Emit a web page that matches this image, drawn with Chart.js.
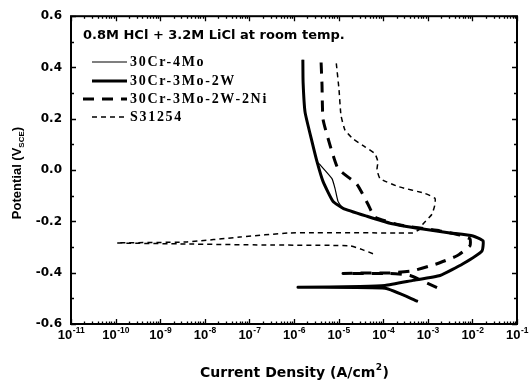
<!DOCTYPE html>
<html>
<head>
<meta charset="utf-8">
<script src="https://cdn.jsdelivr.net/npm/chart.js@4.4.1/dist/chart.umd.min.js"></script>
<style>
  html, body { margin: 0; padding: 0; background: #fff; }
  canvas { display: block; }
</style>
</head>
<body>
<canvas id="c" width="529" height="384"></canvas>
<script>
// Potentiodynamic polarization curves: current density (A/cm^2) vs potential (V vs SCE)
const seriesNames = ['30Cr-4Mo', '30Cr-3Mo-2W', '30Cr-3Mo-2W-2Ni', 'S31254'];

// 30Cr-4Mo
const mo_i = [6.0e-4, 1.1e-4, 1.23e-6, 3.0e-5, 1.1e-4, 4.66e-4, 1.88e-3, 6.15e-3, 1.64e-2, 1.73e-2, 1.03e-2, 3.15e-3, 7.8e-4, 1.42e-4, 4.34e-5, 1.26e-5, 9.7e-6, 8.3e-6, 7.1e-6, 3.83e-6, 3.28e-6, 2.54e-6, 1.77e-6, 1.6e-6, 1.58e-6];
const mo_E = [-0.512, -0.461, -0.457, -0.454, -0.450, -0.430, -0.411, -0.365, -0.315, -0.276, -0.257, -0.245, -0.230, -0.207, -0.180, -0.149, -0.122, -0.071, -0.033, 0.021, 0.033, 0.110, 0.226, 0.342, 0.430];

// 30Cr-3Mo-2W
const w_i = [6.0e-4, 1.1e-4, 1.23e-6, 3.0e-5, 1.1e-4, 4.66e-4, 1.88e-3, 6.15e-3, 1.64e-2, 1.73e-2, 1.03e-2, 3.15e-3, 7.8e-4, 1.42e-4, 4.34e-5, 1.26e-5, 7.5e-6, 4.47e-6, 3.28e-6, 2.54e-6, 1.77e-6, 1.6e-6, 1.58e-6];
const w_E = [-0.512, -0.461, -0.457, -0.454, -0.450, -0.430, -0.411, -0.365, -0.315, -0.276, -0.257, -0.245, -0.230, -0.207, -0.180, -0.149, -0.122, -0.044, 0.033, 0.110, 0.226, 0.342, 0.430];

// 30Cr-3Mo-2W-2Ni
const ni_i = [1.61e-3, 3.99e-4, 1.42e-4, 1.26e-5, 4.34e-5, 1.42e-4, 4.66e-4, 1.61e-3, 4.52e-3, 8.83e-3, 8.83e-3, 5.27e-3, 1.88e-3, 2.38e-4, 6.5e-5, 4.56e-5, 2.59e-5, 9.7e-6, 6.4e-6, 4.47e-6, 4.25e-6, 4.03e-6];
const ni_E = [-0.458, -0.411, -0.403, -0.403, -0.401, -0.401, -0.392, -0.365, -0.334, -0.295, -0.268, -0.253, -0.237, -0.214, -0.183, -0.133, -0.056, 0.006, 0.098, 0.199, 0.330, 0.430];

// S31254
const s_i = [5.9e-5, 3.52e-5, 1.8e-5, 2.02e-7, 3.99e-9, 1.07e-10, 3.99e-9, 6.15e-8, 8.1e-7, 2.04e-4, 4.43e-4, 6.7e-4, 7.8e-4, 1.24e-3, 1.45e-3, 1.45e-3, 8.65e-4, 2.15e-4, 8.5e-5, 7.26e-5, 7.6e-5, 6.5e-5, 3.9e-5, 2.1e-5, 1.39e-5, 1.13e-5, 1.02e-5, 8.75e-6];
const s_E = [-0.326, -0.311, -0.295, -0.292, -0.288, -0.284, -0.280, -0.261, -0.245, -0.245, -0.245, -0.230, -0.210, -0.172, -0.133, -0.110, -0.091, -0.064, -0.033, 0.002, 0.033, 0.064, 0.091, 0.122, 0.156, 0.214, 0.315, 0.427];

// Axis ticks
const xTickExponents = [-11, -10, -9, -8, -7, -6, -5, -4, -3, -2, -1];
const yTickValues = [-0.6, -0.4, -0.2, 0.0, 0.2, 0.4, 0.6];

const noteText = '0.8M HCl + 3.2M LiCl at room temp.';

function toPoints(iArr, eArr) {
  return iArr.map((v, k) => ({ x: v, y: eArr[k] }));
}

const lineStyles = [
  { borderWidth: 1.2, borderDash: [] },
  { borderWidth: 3, borderDash: [] },
  { borderWidth: 3, borderDash: [11, 8] },
  { borderWidth: 1.5, borderDash: [5, 4] }
];

const seriesData = [
  toPoints(mo_i, mo_E),
  toPoints(w_i, w_E),
  toPoints(ni_i, ni_E),
  toPoints(s_i, s_E)
];

// Frame, inward ticks, superscripted labels, titles and legend
const decorPlugin = {
  id: 'decor',
  afterDraw(chart) {
    const { ctx, chartArea: a, scales } = chart;
    const xs = scales.x, ys = scales.y;
    ctx.save();
    ctx.strokeStyle = '#000';
    ctx.fillStyle = '#000';

    // frame
    ctx.lineWidth = 2;
    ctx.strokeRect(a.left, a.top, a.right - a.left, a.bottom - a.top);

    // x ticks (bottom and top, pointing inward)
    ctx.lineWidth = 1.3;
    ctx.beginPath();
    xTickExponents.forEach((e, idx) => {
      const px = Math.round(xs.getPixelForValue(Math.pow(10, e))) + 0.5;
      ctx.moveTo(px, a.bottom); ctx.lineTo(px, a.bottom - 5);
      ctx.moveTo(px, a.top); ctx.lineTo(px, a.top + 5);
      if (idx < xTickExponents.length - 1) {
        for (let m = 2; m <= 9; m++) {
          const mx = Math.round(xs.getPixelForValue(m * Math.pow(10, e))) + 0.5;
          ctx.moveTo(mx, a.bottom); ctx.lineTo(mx, a.bottom - 2.5);
          ctx.moveTo(mx, a.top); ctx.lineTo(mx, a.top + 2.5);
        }
      }
    });
    // y ticks (left and right, pointing inward)
    yTickValues.forEach((v, idx) => {
      const py = Math.round(ys.getPixelForValue(v)) + 0.5;
      ctx.moveTo(a.left, py); ctx.lineTo(a.left + 5, py);
      ctx.moveTo(a.right, py); ctx.lineTo(a.right - 5, py);
      if (idx < yTickValues.length - 1) {
        const mv = (v + yTickValues[idx + 1]) / 2;
        const my = Math.round(ys.getPixelForValue(mv)) + 0.5;
        ctx.moveTo(a.left, my); ctx.lineTo(a.left + 3, my);
        ctx.moveTo(a.right, my); ctx.lineTo(a.right - 3, my);
      }
    });
    ctx.stroke();

    // x tick labels: 10 with a raised exponent
    const baseFont = 'bold 13px "Liberation Sans", Arial, sans-serif';
    const supFont = 'bold 8.5px "Liberation Sans", Arial, sans-serif';
    ctx.textBaseline = 'alphabetic';
    ctx.textAlign = 'left';
    xTickExponents.forEach(e => {
      const px = xs.getPixelForValue(Math.pow(10, e));
      const expText = String(e);
      ctx.font = baseFont;
      const w1 = ctx.measureText('10').width;
      ctx.font = supFont;
      const w2 = ctx.measureText(expText).width;
      const x0 = px - (w1 + w2) / 2;
      ctx.font = baseFont;
      ctx.fillText('10', x0, a.bottom + 15);
      ctx.font = supFont;
      ctx.fillText(expText, x0 + w1 + 0.5, a.bottom + 9);
    });

    // x axis title
    {
      const f1 = 'bold 14px "DejaVu Sans", sans-serif';
      const f2 = 'bold 9px "DejaVu Sans", sans-serif';
      const t1 = 'Current Density (A/cm', t2 = '2', t3 = ')';
      ctx.font = f1; const w1 = ctx.measureText(t1).width; const w3 = ctx.measureText(t3).width;
      ctx.font = f2; const w2 = ctx.measureText(t2).width;
      const cx = (a.left + a.right) / 2;
      let x0 = cx - (w1 + w2 + w3) / 2;
      const by = 377;
      ctx.font = f1; ctx.fillText(t1, x0, by);
      ctx.font = f2; ctx.fillText(t2, x0 + w1 + 0.5, by - 7);
      ctx.font = f1; ctx.fillText(t3, x0 + w1 + w2 + 1, by);
    }

    // y axis title, rotated
    {
      const f1 = 'bold 13px "Liberation Sans", Arial, sans-serif';
      const f2 = 'bold 8px "Liberation Sans", Arial, sans-serif';
      const t1 = 'Potential (V', t2 = 'SCE', t3 = ')';
      ctx.save();
      ctx.translate(21, 173);
      ctx.rotate(-Math.PI / 2);
      ctx.font = f1; const w1 = ctx.measureText(t1).width; const w3 = ctx.measureText(t3).width;
      ctx.font = f2; const w2 = ctx.measureText(t2).width;
      let x0 = -(w1 + w2 + w3) / 2;
      ctx.font = f1; ctx.fillText(t1, x0, 0);
      ctx.font = f2; ctx.fillText(t2, x0 + w1, 3);
      ctx.font = f1; ctx.fillText(t3, x0 + w1 + w2, 0);
      ctx.restore();
    }

    // condition note
    ctx.font = 'bold 13px "DejaVu Sans", sans-serif';
    ctx.fillText(noteText, 83, 39);

    // legend
    const rowY = [62, 81, 99, 117];
    chart.data.datasets.forEach((ds, k) => {
      const yy = rowY[k];
      ctx.save();
      ctx.lineWidth = ds.borderWidth;
      ctx.setLineDash(ds.borderDash);
      ctx.beginPath();
      ctx.moveTo(k === 2 ? 83 : 92, yy);
      ctx.lineTo(127, yy);
      ctx.stroke();
      ctx.restore();
      ctx.save();
      ctx.font = 'bold 14px "Liberation Serif", "Times New Roman", serif';
      if ('letterSpacing' in ctx) ctx.letterSpacing = '1.7px';
      ctx.textBaseline = 'middle';
      ctx.fillText(ds.label, 130, yy + 0.5);
      ctx.restore();
    });

    ctx.restore();
  }
};

new Chart(document.getElementById('c'), {
  type: 'scatter',
  data: {
    datasets: seriesData.map((pts, k) => ({
      label: seriesNames[k],
      data: pts,
      showLine: true,
      borderColor: '#000',
      backgroundColor: '#000',
      borderWidth: lineStyles[k].borderWidth,
      borderDash: lineStyles[k].borderDash,
      pointRadius: 0,
      tension: 0.15,
      borderCapStyle: 'butt',
      borderJoinStyle: 'round'
    }))
  },
  options: {
    responsive: false,
    animation: false,
    devicePixelRatio: 1,
    layout: { padding: { top: 13, right: 12, left: 0, bottom: 0 } },
    plugins: {
      legend: { display: false },
      title: { display: false },
      tooltip: { enabled: false }
    },
    scales: {
      x: {
        type: 'logarithmic',
        min: 1e-11,
        max: 1e-1,
        grid: { display: false, drawTicks: false },
        border: { display: false },
        ticks: { display: false },
        afterBuildTicks(s) { s.ticks = xTickExponents.map(e => ({ value: Math.pow(10, e) })); },
        afterFit(s) { s.height = 60; }
      },
      y: {
        type: 'linear',
        min: -0.6,
        max: 0.6,
        grid: { display: false, drawTicks: false },
        border: { display: false },
        ticks: {
          color: '#000',
          padding: 9,
          font: { family: '"DejaVu Sans", sans-serif', weight: 'bold', size: 12 },
          callback: v => Number(v).toFixed(1)
        },
        afterBuildTicks(s) { s.ticks = yTickValues.map(v => ({ value: v })); },
        afterFit(s) { s.width = 71; }
      }
    }
  },
  plugins: [decorPlugin]
});
</script>
</body>
</html>
